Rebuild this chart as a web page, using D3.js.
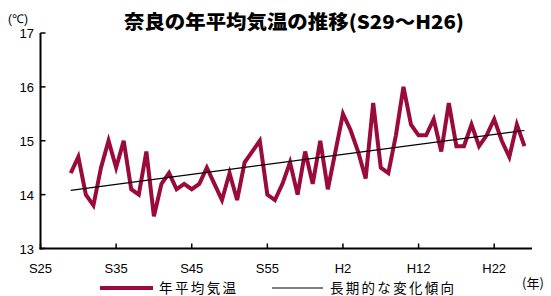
<!DOCTYPE html>
<html>
<head>
<meta charset="utf-8">
<title>奈良の年平均気温の推移</title>
<script src="https://d3js.org/d3.v7.min.js"></script>
<style>
  html, body { margin: 0; padding: 0; background: #fff; }
  svg { display: block; }
</style>
</head>
<body>
<svg id="chart" width="551" height="296"></svg>
<script>
// 年（西暦）
var years = [1954, 1955, 1956, 1957, 1958, 1959, 1960, 1961, 1962, 1963,
             1964, 1965, 1966, 1967, 1968, 1969, 1970, 1971, 1972, 1973,
             1974, 1975, 1976, 1977, 1978, 1979, 1980, 1981, 1982, 1983,
             1984, 1985, 1986, 1987, 1988, 1989, 1990, 1991, 1992, 1993,
             1994, 1995, 1996, 1997, 1998, 1999, 2000, 2001, 2002, 2003,
             2004, 2005, 2006, 2007, 2008, 2009, 2010, 2011, 2012, 2013, 2014];
// 年平均気温 (℃)
var temps = [14.4, 14.7, 14.0, 13.8, 14.5, 15.0, 14.5, 15.0, 14.1, 14.0,
             14.8, 13.6, 14.2, 14.4, 14.1, 14.2, 14.1, 14.2, 14.5, 14.2,
             13.9, 14.4, 13.9, 14.6, 14.8, 15.0, 14.0, 13.9, 14.2, 14.6,
             14.0, 14.8, 14.2, 15.0, 14.1, 14.8, 15.5, 15.2, 14.8, 14.3,
             15.7, 14.5, 14.4, 15.1, 16.0, 15.3, 15.1, 15.1, 15.4, 14.8,
             15.7, 14.9, 14.9, 15.3, 14.9, 15.1, 15.4, 15.0, 14.7, 15.3, 14.9];
// 長期的な変化傾向（始点・終点）
var trendYears = [1954, 2014];
var trendTemps = [14.08, 15.19];
// 軸の目盛り
var xTickYears = [1950, 1960, 1970, 1980, 1990, 2000, 2010];
var xTickLabels = ["S25", "S35", "S45", "S55", "H2", "H12", "H22"];
var yTicks = [13, 14, 15, 16, 17];

var svg = d3.select("#chart");
var red = "#9a0a3c";
var fontJP = "'Noto Sans CJK JP', 'Noto Sans', sans-serif";
var fontNum = "'Liberation Sans', Arial, sans-serif";

var x = d3.scaleLinear().domain([1950, 2015]).range([40.5, 532]);
var y = d3.scaleLinear().domain([13, 17]).range([248.5, 33]);

// タイトル
svg.append("text")
    .attr("x", 124).attr("y", 29)
    .attr("textLength", 340).attr("lengthAdjust", "spacingAndGlyphs")
    .style("font-family", fontJP).style("font-weight", 900).style("font-size", "19px")
    .text("奈良の年平均気温の推移(S29～H26)");

// 単位
svg.append("text")
    .attr("x", 8).attr("y", 23)
    .style("font-family", fontNum).style("font-size", "12px")
    .text("(℃)");

// Y軸
svg.append("line")
    .attr("x1", x(1950)).attr("x2", x(1950))
    .attr("y1", y(17)).attr("y2", y(13) + 1)
    .attr("stroke", "#000").attr("stroke-width", 2);
svg.selectAll(".ytick").data(yTicks).enter().append("line")
    .attr("x1", x(1950)).attr("x2", x(1950) + 5)
    .attr("y1", d => y(d)).attr("y2", d => y(d))
    .attr("stroke", "#000").attr("stroke-width", 1.5);
svg.selectAll(".ylab").data(yTicks).enter().append("text")
    .attr("x", 34).attr("y", d => y(d) + 5)
    .attr("text-anchor", "end")
    .style("font-family", fontNum).style("font-size", "13px")
    .text(d => d);

// X軸
svg.append("line")
    .attr("x1", x(1950) - 1).attr("x2", x(2015))
    .attr("y1", y(13)).attr("y2", y(13))
    .attr("stroke", "#000").attr("stroke-width", 2);
svg.selectAll(".xtick").data(xTickYears).enter().append("line")
    .attr("x1", d => x(d)).attr("x2", d => x(d))
    .attr("y1", y(13)).attr("y2", y(13) - 5)
    .attr("stroke", "#000").attr("stroke-width", 1.5);
svg.selectAll(".xlab").data(xTickYears).enter().append("text")
    .attr("x", d => x(d)).attr("y", 273)
    .attr("text-anchor", "middle")
    .style("font-family", fontNum).style("font-size", "13px")
    .text((d, i) => xTickLabels[i]);
svg.append("text")
    .attr("x", 522).attr("y", 288)
    .style("font-family", fontJP).style("font-size", "13px")
    .text("(年)");

// 年平均気温の折れ線
var line = d3.line()
    .x((d, i) => x(years[i]))
    .y(d => y(d));
svg.append("path")
    .datum(temps)
    .attr("d", line)
    .attr("fill", "none")
    .attr("stroke", red)
    .attr("stroke-width", 4)
    .attr("stroke-linejoin", "miter");

// 長期的な変化傾向
svg.append("path")
    .datum(trendTemps)
    .attr("d", d3.line().x((d, i) => x(trendYears[i])).y(d => y(d)))
    .attr("fill", "none")
    .attr("stroke", "#000")
    .attr("stroke-width", 1.2);

// 凡例
var legend = svg.append("g");
legend.append("line")
    .attr("x1", 100).attr("x2", 153).attr("y1", 288).attr("y2", 288)
    .attr("stroke", red).attr("stroke-width", 4);
legend.append("text")
    .attr("x", 159).attr("y", 293)
    .attr("textLength", 77).attr("lengthAdjust", "spacing")
    .style("font-family", fontJP).style("font-size", "13.5px")
    .text("年平均気温");
legend.append("line")
    .attr("x1", 272).attr("x2", 323).attr("y1", 288).attr("y2", 288)
    .attr("stroke", "#555").attr("stroke-width", 1.5);
legend.append("text")
    .attr("x", 330).attr("y", 293)
    .attr("textLength", 124).attr("lengthAdjust", "spacing")
    .style("font-family", fontJP).style("font-size", "13.5px")
    .text("長期的な変化傾向");
</script>
</body>
</html>
